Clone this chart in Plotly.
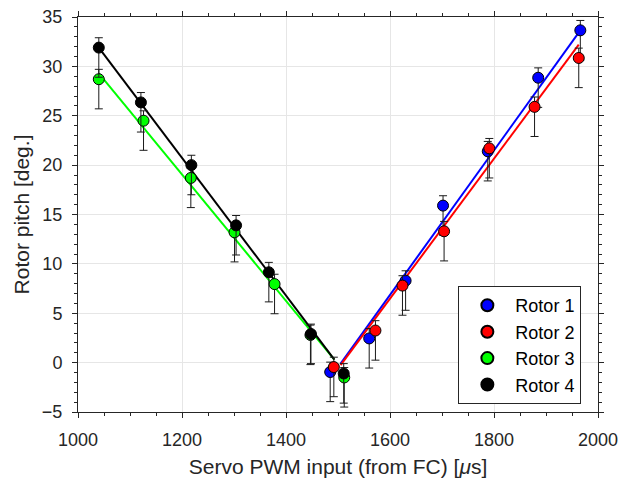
import plotly.graph_objects as go

# ---- data ----
rotor_names = ["Rotor 1", "Rotor 2", "Rotor 3", "Rotor 4"]
rotor_colors = ["#0000FF", "#FF0000", "#00FF00", "#000000"]

r1_pwm = [1485, 1560, 1630, 1702, 1788, 1885, 1966]
r1_pitch = [-0.95, 2.45, 8.3, 15.9, 21.4, 28.85, 33.65]

r2_pwm = [1492, 1572, 1624, 1704, 1791, 1878, 1963]
r2_pitch = [-0.45, 3.25, 7.8, 13.3, 21.7, 25.9, 30.85]

r3_pwm = [1040, 1126, 1217, 1301, 1378, 1447, 1512]
r3_pitch = [28.7, 24.5, 18.7, 13.2, 7.95, 2.8, -1.5]

r4_pwm = [1040, 1121, 1218, 1304, 1367, 1448, 1511]
r4_pitch = [31.9, 26.35, 20.0, 13.9, 9.15, 2.9, -1.1]

# asymmetric measurement uncertainty (deg.)
err_plus = [1.0, 1.0, 1.0, 1.0, 1.0, 1.0, 1.0]
err_minus = [3.0, 3.0, 3.0, 3.0, 3.0, 3.0, 3.0]

# linear fit segments (endpoints)
fit1_x = [1505, 1966]
fit1_y = [-0.1, 33.65]
fit2_x = [1505, 1963]
fit2_y = [-0.25, 32.2]
fit3_x = [1040, 1493]
fit3_y = [29.3, 0.3]
fit4_x = [1040, 1493]
fit4_y = [31.9, 0.3]

pwm_data = [r1_pwm, r2_pwm, r3_pwm, r4_pwm]
pitch_data = [r1_pitch, r2_pitch, r3_pitch, r4_pitch]
fits_x = [fit1_x, fit2_x, fit3_x, fit4_x]
fits_y = [fit1_y, fit2_y, fit3_y, fit4_y]

axis_col = "#262626"
font_family = "Liberation Sans, Arial, sans-serif"

fig = go.Figure()

for fx, fy, col in zip(fits_x, fits_y, rotor_colors):
    fig.add_trace(go.Scatter(x=fx, y=fy, mode="lines",
                             line=dict(color=col, width=2),
                             showlegend=False, hoverinfo="skip"))

for name, col, xs, ys in zip(rotor_names, rotor_colors, pwm_data, pitch_data):
    fig.add_trace(go.Scatter(
        x=xs, y=ys, mode="markers", name=name,
        marker=dict(color=col, size=11, line=dict(color="#000000", width=1)),
        error_y=dict(type="data", symmetric=False, array=err_plus,
                     arrayminus=err_minus, color="#1a1a1a",
                     thickness=1, width=4),
    ))

fig.update_layout(
    width=629, height=482,
    margin=dict(l=78, r=31, t=17, b=70),
    paper_bgcolor="white", plot_bgcolor="white",
    font=dict(family=font_family, size=18, color=axis_col),
    showlegend=True,
    legend=dict(x=0.968, y=0.02, xanchor="right", yanchor="bottom",
                bgcolor="white", bordercolor=axis_col, borderwidth=1,
                font=dict(size=18, color="#000000"),
                itemsizing="constant", itemwidth=46, tracegroupgap=0),
)

fig.update_xaxes(
    range=[1000, 2000], tick0=1000, dtick=200, automargin=False,
    showline=True, linecolor=axis_col, linewidth=1, mirror="ticks",
    ticks="outside", ticklen=5, tickcolor=axis_col,
    showgrid=True, gridcolor="#e6e6e6", gridwidth=1, zeroline=False,
    minor=dict(ticks="outside", dtick=50, ticklen=3, tickcolor=axis_col,
               showgrid=False),
    title=dict(text="Servo PWM input (from FC) [<i>μ</i>s]", standoff=10,
               font=dict(size=21)),
    tickfont=dict(size=18),
    ticklabelstandoff=6,
)
fig.update_yaxes(
    range=[-5, 35], tick0=-5, dtick=5, automargin=False,
    showline=True, linecolor=axis_col, linewidth=1, mirror="ticks",
    ticks="outside", ticklen=5, tickcolor=axis_col,
    showgrid=True, gridcolor="#e6e6e6", gridwidth=1, zeroline=False,
    minor=dict(ticks="outside", dtick=1, ticklen=3, tickcolor=axis_col,
               showgrid=False),
    title=dict(text="Rotor pitch [deg.]", standoff=6, font=dict(size=21)),
    tickfont=dict(size=18),
    ticklabelstandoff=6,
)

fig.write_html("out.html")
